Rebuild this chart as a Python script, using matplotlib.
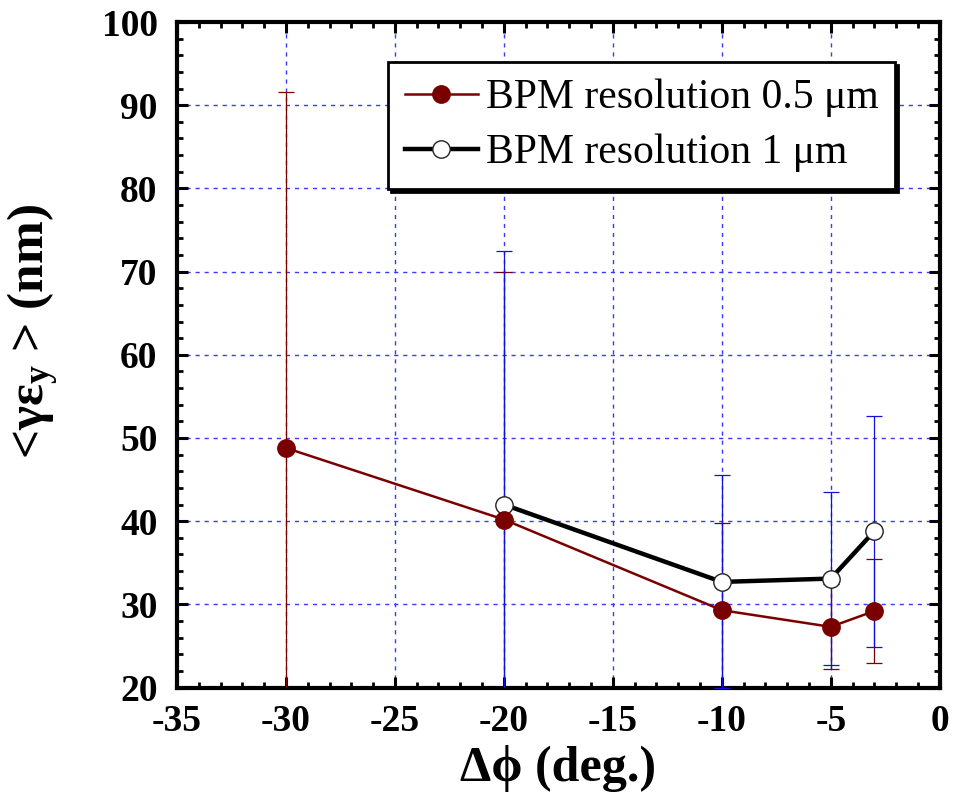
import matplotlib
matplotlib.use("Agg")
import matplotlib.pyplot as plt
from matplotlib.ticker import MultipleLocator

plt.rcParams["font.family"] = ["Liberation Serif", "DejaVu Serif"]
plt.rcParams["mathtext.fontset"] = "custom"
plt.rcParams["mathtext.rm"] = "Liberation Serif:bold"
plt.rcParams["mathtext.bf"] = "Liberation Serif:bold"
plt.rcParams["mathtext.it"] = "Liberation Serif:bold"
plt.rcParams["axes.unicode_minus"] = False

# phase advance (deg.)
phi_05 = [-30, -20, -10, -5, -3]
emit_05 = [48.8, 40.2, 29.3, 27.3, 29.2]
err_05 = [42.8, 29.7, 10.5, 5.1, 6.3]

phi_1 = [-20, -10, -5, -3]
emit_1 = [42.0, 32.7, 33.1, 38.8]
err_1 = [30.5, 12.8, 10.4, 13.9]

red = "#7a0000"
blue = "#1010d8"

fig = plt.figure(figsize=(9.55, 8.07), dpi=100)
ax = fig.add_axes([0.1853, 0.148, 0.7987, 0.8247])

# error bars first, then the series on top
ax.errorbar(phi_05, emit_05, yerr=err_05, fmt="none", ecolor=red,
            elinewidth=0.9, capsize=6, capthick=0.9, zorder=3)
ax.errorbar(phi_1, emit_1, yerr=err_1, fmt="none", ecolor=blue,
            elinewidth=0.9, capsize=6, capthick=0.9, zorder=3)

ax.plot(phi_1, emit_1, "-o", color="black", lw=3.2, ms=12.5,
        mfc="white", mec="#222222", mew=1.0, zorder=4,
        label="BPM resolution 1 μm")
ax.plot(phi_05, emit_05, "-o", color=red, lw=1.8, ms=12.5,
        mfc=red, mec=red, zorder=5,
        label="BPM resolution 0.5 μm")

ax.set_xlim(-35, 0)
ax.set_ylim(20, 100)
ax.xaxis.set_major_locator(MultipleLocator(5))
ax.xaxis.set_minor_locator(MultipleLocator(1))
ax.yaxis.set_major_locator(MultipleLocator(10))
ax.yaxis.set_minor_locator(MultipleLocator(2))

ax.grid(True, which="major", color="#3a3aff", lw=1.0,
        linestyle=(0, (3, 3.5)), zorder=1)
ax.set_axisbelow(True)

for s in ax.spines.values():
    s.set_linewidth(3)
ax.tick_params(which="both", direction="in", top=True, right=True)
ax.tick_params(which="major", length=8, width=2.2)
ax.tick_params(which="minor", length=4.5, width=2)
ax.tick_params(axis="x", labelsize=27, pad=12)
ax.tick_params(axis="y", labelsize=27, pad=14)
for lab in ax.get_xticklabels() + ax.get_yticklabels():
    lab.set_fontweight("bold")

ax.set_xlabel("Δϕ (deg.)", fontsize=36, fontweight="bold", labelpad=4)
ax.set_ylabel("<γε$_\\mathbf{y}$ > (nm)", fontsize=37, fontweight="bold")
ax.yaxis.set_label_coords(-0.152, 0.535)

handles, labels = ax.get_legend_handles_labels()
leg = ax.legend(handles[::-1], labels[::-1], loc="upper right",
                bbox_to_anchor=(0.942, 0.94), borderaxespad=0,
                fontsize=30, fancybox=False, framealpha=1,
                edgecolor="black", handlelength=1.75, handletextpad=0.2,
                labelspacing=0.4, borderpad=0.4,
                shadow={"color": "black", "alpha": 1})
leg.get_frame().set_linewidth(2)

fig.savefig("out.png", dpi=100)
